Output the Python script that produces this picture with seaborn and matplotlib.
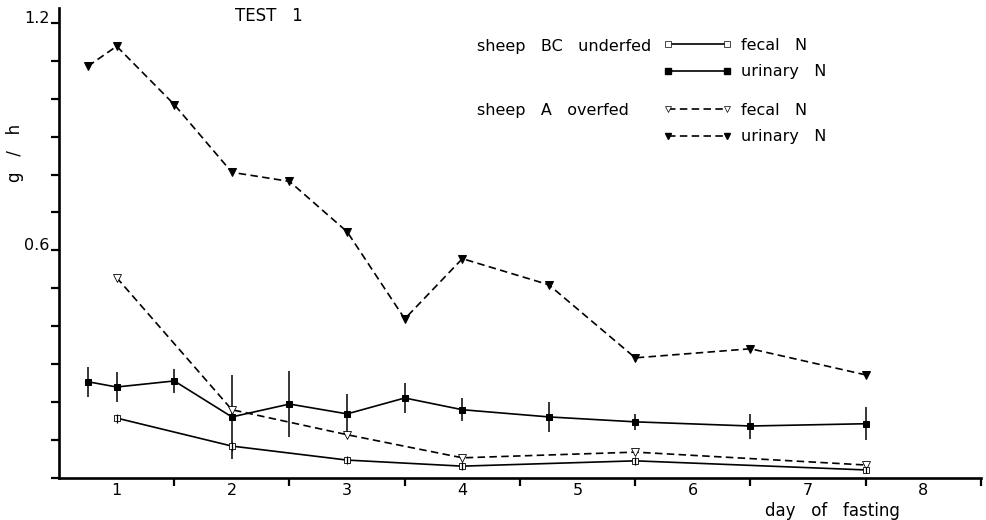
import matplotlib
matplotlib.use("Agg")
import matplotlib.pyplot as plt
from matplotlib.lines import Line2D
from matplotlib.ticker import FixedLocator, MultipleLocator
import numpy as np
import pandas as pd
import seaborn as sns

# ---------------- data ----------------
urinary_days = [0.75, 1, 1.5, 2, 2.5, 3, 3.5, 4, 4.75, 5.5, 6.5, 7.5]
urinary_A = [1.086, 1.139, 0.985, 0.806, 0.782, 0.649, 0.419, 0.578, 0.509, 0.316, 0.340, 0.271]
urinary_BC = [0.253, 0.239, 0.255, 0.160, 0.194, 0.168, 0.210, 0.179, 0.160, 0.147, 0.136, 0.142]
urinary_BC_err = [0.040, 0.040, 0.032, 0.110, 0.088, 0.053, 0.040, 0.030, 0.040, 0.021, 0.033, 0.043]

fecal_days = [1, 2, 3, 4, 5.5, 7.5]
fecal_A = [0.528, 0.179, 0.113, 0.052, 0.067, 0.033]
fecal_BC = [0.157, 0.083, 0.046, 0.030, 0.044, 0.020]
fecal_BC_err = [0.012, 0.012, 0.010, 0.010, 0.010, 0.008]

day_labels = ["1", "2", "3", "4", "5", "6", "7", "8"]
day_label_pos = [1, 2, 3, 4, 5, 6, 7, 8]
day_tick_pos = [1.5, 2.5, 3.5, 4.5, 5.5, 6.5, 7.5, 8.5]
y_labels = ["1.2", "0.6"]
y_label_pos = [1.2, 0.6]

# ---------------- figure ----------------
sns.set_style("ticks")
plt.rcParams["font.family"] = ["DejaVu Sans"]
plt.rcParams["text.color"] = "black"
plt.rcParams["axes.labelcolor"] = "black"
plt.rcParams["xtick.color"] = "black"
plt.rcParams["ytick.color"] = "black"

W, H = 987, 520
fig = plt.figure(figsize=(W / 100, H / 100), dpi=100)
ax = fig.add_axes([59 / W, 42.5 / H, (981 - 59) / W, (477.5 - 8) / H])

df_u = pd.DataFrame({"day": urinary_days, "A": urinary_A, "BC": urinary_BC, "err": urinary_BC_err})
df_f = pd.DataFrame({"day": fecal_days, "A": fecal_A, "BC": fecal_BC, "err": fecal_BC_err})

DASH = (0, (4.5, 2.6))
LW = 1.2

# error bars
ax.errorbar(df_u["day"], df_u["BC"], yerr=df_u["err"], fmt="none", ecolor="black",
            elinewidth=1.1, capsize=0, zorder=2)
ax.errorbar(df_f["day"], df_f["BC"], yerr=df_f["err"], fmt="none", ecolor="black",
            elinewidth=0.9, capsize=0, zorder=5)

# sheep A overfed, urinary N
sns.lineplot(data=df_u, x="day", y="A", ax=ax, color="black", lw=LW, marker="v",
             markersize=5.5, markerfacecolor="black", markeredgecolor="black",
             errorbar=None, zorder=3)
ax.lines[-1].set_linestyle(DASH)
# sheep A overfed, fecal N
sns.lineplot(data=df_f, x="day", y="A", ax=ax, color="black", lw=LW, marker="v",
             markersize=6, markerfacecolor="white", markeredgecolor="black",
             markeredgewidth=0.6, errorbar=None, zorder=3)
ax.lines[-1].set_linestyle(DASH)
# sheep BC underfed, urinary N
sns.lineplot(data=df_u, x="day", y="BC", ax=ax, color="black", lw=LW, marker="s",
             markersize=5, markerfacecolor="black", markeredgecolor="black",
             errorbar=None, zorder=4)
# sheep BC underfed, fecal N
sns.lineplot(data=df_f, x="day", y="BC", ax=ax, color="black", lw=LW, marker="s",
             markersize=4.6, markerfacecolor="white", markeredgecolor="black",
             markeredgewidth=0.6, errorbar=None, zorder=4)

# ---------------- axes styling ----------------
ax.set_xlim(0.5, 8.5)
ax.set_ylim(0, 1.24)
for s in ["top", "right"]:
    ax.spines[s].set_visible(False)
for s in ["left", "bottom"]:
    ax.spines[s].set_linewidth(1.9)
    ax.spines[s].set_color("black")

ax.xaxis.set_major_locator(FixedLocator(day_tick_pos))
ax.xaxis.set_minor_locator(FixedLocator(day_label_pos))
ax.set_xticklabels([""] * len(day_tick_pos))
ax.set_xticklabels(day_labels, minor=True)
ax.tick_params(axis="x", which="major", direction="out", length=6, width=1.6, color="black")
ax.tick_params(axis="x", which="minor", length=0, pad=4, labelsize=11.5, labelcolor="black")

ax.yaxis.set_major_locator(FixedLocator(y_label_pos))
ax.set_yticklabels(y_labels)
ax.yaxis.set_minor_locator(MultipleLocator(0.1))
ax.tick_params(axis="y", which="both", direction="out", length=6, width=1.6, color="black")
ax.tick_params(axis="y", which="major", pad=1, labelsize=11.5, labelcolor="black")
for lab in ax.get_yticklabels():
    lab.set_verticalalignment("baseline")

ax.set_xlabel("")
ax.set_ylabel("")

# ---------------- texts ----------------
fig.text(15 / W, 1 - 153 / H, "g   /   h", rotation=90, ha="center", va="center", fontsize=12)
fig.text(269 / W, 1 - 16 / H, "TEST   1", ha="center", va="center", fontsize=12)
fig.text(832 / W, 1 - 511 / H, "day   of   fasting", ha="center", va="center", fontsize=12)
fig.text(477 / W, 1 - 46 / H, "sheep   BC   underfed", ha="left", va="center", fontsize=11.5)
fig.text(477 / W, 1 - 110 / H, "sheep   A   overfed", ha="left", va="center", fontsize=11.5)

# ---------------- legends ----------------
h_fec_bc = Line2D([], [], color="black", lw=LW, marker="s", markersize=4.5,
                  markerfacecolor="white", markeredgecolor="black", markeredgewidth=0.5)
h_uri_bc = Line2D([], [], color="black", lw=LW, marker="s", markersize=4.5,
                  markerfacecolor="black", markeredgecolor="black")
h_fec_a = Line2D([], [], color="black", lw=LW, ls=DASH, marker="v", markersize=4.5,
                 markerfacecolor="white", markeredgecolor="black", markeredgewidth=0.5)
h_uri_a = Line2D([], [], color="black", lw=LW, ls=DASH, marker="v", markersize=4.5,
                 markerfacecolor="black", markeredgecolor="black")

leg_kw = dict(frameon=False, numpoints=2, handlelength=4.3, handletextpad=0.6,
              labelspacing=0.7, borderpad=0, borderaxespad=0, fontsize=11.5,
              loc="upper left", bbox_transform=fig.transFigure)
leg1 = ax.legend([h_fec_bc, h_uri_bc], ["fecal   N", "urinary   N"],
                 bbox_to_anchor=(663 / W, 1 - 38 / H), **leg_kw)
ax.add_artist(leg1)
leg2 = ax.legend([h_fec_a, h_uri_a], ["fecal   N", "urinary   N"],
                 bbox_to_anchor=(663 / W, 1 - 103 / H), **leg_kw)
for lg in (leg1, leg2):
    for t in lg.get_texts():
        t.set_color("black")

fig.savefig("out.png", dpi=100)
